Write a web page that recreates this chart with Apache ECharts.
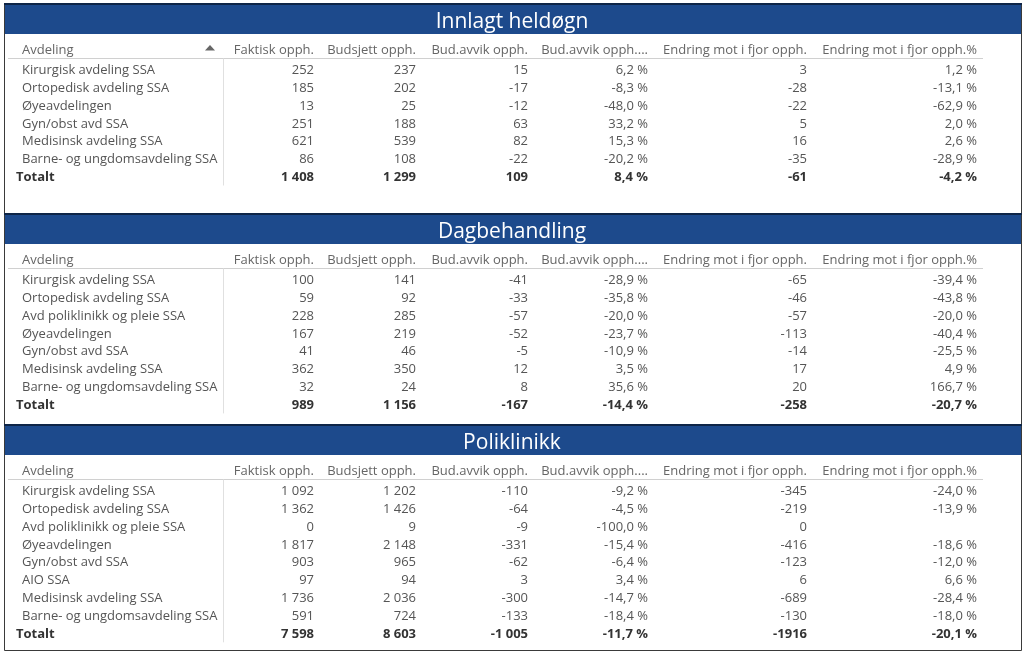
<!DOCTYPE html>
<html><head><meta charset="utf-8">
<script src="https://cdn.jsdelivr.net/npm/echarts@6/dist/echarts.min.js"></script>
<style>html,body{margin:0;padding:0;background:#fff}#c{width:1024px;height:652px}</style>
</head><body><div id="c"></div>
<script>
// ---------- DATA ----------
const sectionTitles = ["Innlagt heldøgn", "Dagbehandling", "Poliklinikk"];
const columnHeaders = ["Avdeling", "Faktisk opph.", "Budsjett opph.", "Bud.avvik opph.", "Bud.avvik opph....", "Endring mot i fjor opph.", "Endring mot i fjor opph.%"];
const totalLabel = "Totalt";

const innlagtAvdeling = ["Kirurgisk avdeling SSA", "Ortopedisk avdeling SSA", "Øyeavdelingen", "Gyn/obst avd SSA", "Medisinsk avdeling SSA", "Barne- og ungdomsavdeling SSA"];
const innlagtFaktisk = [252, 185, 13, 251, 621, 86];
const innlagtBudsjett = [237, 202, 25, 188, 539, 108];
const innlagtAvvik = [15, -17, -12, 63, 82, -22];
const innlagtAvvikPct = [6.2, -8.3, -48.0, 33.2, 15.3, -20.2];
const innlagtEndring = [3, -28, -22, 5, 16, -35];
const innlagtEndringPct = [1.2, -13.1, -62.9, 2.0, 2.6, -28.9];
const innlagtTotal = ["1 408", "1 299", "109", "8,4 %", "-61", "-4,2 %"];

const dagAvdeling = ["Kirurgisk avdeling SSA", "Ortopedisk avdeling SSA", "Avd poliklinikk og pleie SSA", "Øyeavdelingen", "Gyn/obst avd SSA", "Medisinsk avdeling SSA", "Barne- og ungdomsavdeling SSA"];
const dagFaktisk = [100, 59, 228, 167, 41, 362, 32];
const dagBudsjett = [141, 92, 285, 219, 46, 350, 24];
const dagAvvik = [-41, -33, -57, -52, -5, 12, 8];
const dagAvvikPct = [-28.9, -35.8, -20.0, -23.7, -10.9, 3.5, 35.6];
const dagEndring = [-65, -46, -57, -113, -14, 17, 20];
const dagEndringPct = [-39.4, -43.8, -20.0, -40.4, -25.5, 4.9, 166.7];
const dagTotal = ["989", "1 156", "-167", "-14,4 %", "-258", "-20,7 %"];

const poliAvdeling = ["Kirurgisk avdeling SSA", "Ortopedisk avdeling SSA", "Avd poliklinikk og pleie SSA", "Øyeavdelingen", "Gyn/obst avd SSA", "AIO SSA", "Medisinsk avdeling SSA", "Barne- og ungdomsavdeling SSA"];
const poliFaktisk = [1092, 1362, 0, 1817, 903, 97, 1736, 591];
const poliBudsjett = [1202, 1426, 9, 2148, 965, 94, 2036, 724];
const poliAvvik = [-110, -64, -9, -331, -62, 3, -300, -133];
const poliAvvikPct = [-9.2, -4.5, -100.0, -15.4, -6.4, 3.4, -14.7, -18.4];
const poliEndring = [-345, -219, 0, -416, -123, 6, -689, -130];
const poliEndringPct = [-24.0, -13.9, null, -18.6, -12.0, 6.6, -28.4, -18.0];
const poliTotal = ["7 598", "8 603", "-1 005", "-11,7 %", "-1916", "-20,1 %"];

// ---------- FORMAT ----------
function fmtInt(v) {
  if (v == null) return "";
  const s = Math.abs(v).toString().replace(/\B(?=(\d{3})+(?!\d))/g, " ");
  return (v < 0 ? "-" : "") + s;
}
function fmtPct(v) {
  if (v == null) return "";
  return v.toFixed(1).replace(".", ",") + " %";
}

const sections = [
  { title: sectionTitles[0], names: innlagtAvdeling, cols: [innlagtFaktisk, innlagtBudsjett, innlagtAvvik, innlagtAvvikPct, innlagtEndring, innlagtEndringPct], total: innlagtTotal, sortArrow: true },
  { title: sectionTitles[1], names: dagAvdeling, cols: [dagFaktisk, dagBudsjett, dagAvvik, dagAvvikPct, dagEndring, dagEndringPct], total: dagTotal },
  { title: sectionTitles[2], names: poliAvdeling, cols: [poliFaktisk, poliBudsjett, poliAvvik, poliAvvikPct, poliEndring, poliEndringPct], total: poliTotal }
];
const colFormats = [fmtInt, fmtInt, fmtInt, fmtPct, fmtInt, fmtPct];

// ---------- LAYOUT ----------
const panelTops = [3, 213, 424];
const panelBottom = 650;
const left = 4, right = 1021;
const colRight = [314, 416, 528, 648, 807, 977];
const nameX = 22, totalX = 16;
const rowStep = 17.9;
const blue = "#1d4a8c";
const FONT = "'Open Sans', 'Noto Sans', sans-serif";
const bodyFont = "13px " + FONT;
const boldFont = "bold 13px " + FONT;
const textShift = 1.6;

const els = [];
sections.forEach((sec, si) => {
  const top = panelTops[si];
  const bottom = si < 2 ? panelTops[si + 1] : panelBottom;
  els.push({ type: "rect", shape: { x: left + 0.5, y: top + 0.5, width: right - left, height: bottom - top }, style: { fill: "#fff", stroke: "#3a3a3a", lineWidth: 1 }, z: 1 });
  els.push({ type: "rect", shape: { x: left + 1, y: top + 1, width: right - left - 1, height: 30 }, style: { fill: blue }, z: 2 });
  els.push({ type: "line", shape: { x1: left, y1: top + 1, x2: right + 1, y2: top + 1 }, style: { stroke: "#0e2547", lineWidth: 2 }, z: 3 });
  els.push({ type: "text", x: 512, y: top + 19, style: { text: sec.title, fill: "#fff", font: "21px " + FONT, textAlign: "center", textVerticalAlign: "middle" }, z: 4 });

  const hy = top + 46 + textShift;
  els.push({ type: "text", x: nameX, y: hy, style: { text: columnHeaders[0], fill: "#666", font: bodyFont, textAlign: "left", textVerticalAlign: "middle" }, z: 4 });
  for (let c = 0; c < 6; c++) {
    els.push({ type: "text", x: colRight[c], y: hy, style: { text: columnHeaders[c + 1], fill: "#666", font: bodyFont, textAlign: "right", textVerticalAlign: "middle" }, z: 4 });
  }
  if (sec.sortArrow) {
    els.push({ type: "polygon", shape: { points: [[205, top + 47.5], [215, top + 47.5], [210, top + 42]] }, style: { fill: "#666" }, z: 4 });
  }
  const lineY = Math.round(top + 55) + 0.5;
  els.push({ type: "line", shape: { x1: 8, y1: lineY, x2: 983, y2: lineY }, style: { stroke: "#d0d0d0", lineWidth: 1 }, z: 4 });

  const y0 = top + 65.5 + textShift;
  sec.names.forEach((n, r) => {
    const y = y0 + r * rowStep;
    els.push({ type: "text", x: nameX, y: y, style: { text: n, fill: "#555", font: bodyFont, textAlign: "left", textVerticalAlign: "middle" }, z: 4 });
    for (let c = 0; c < 6; c++) {
      els.push({ type: "text", x: colRight[c], y: y, style: { text: colFormats[c](sec.cols[c][r]), fill: "#555", font: bodyFont, textAlign: "right", textVerticalAlign: "middle" }, z: 4 });
    }
  });
  const ty = y0 + sec.names.length * rowStep;
  els.push({ type: "text", x: totalX, y: ty, style: { text: totalLabel, fill: "#333", font: boldFont, textAlign: "left", textVerticalAlign: "middle" }, z: 4 });
  for (let c = 0; c < 6; c++) {
    els.push({ type: "text", x: colRight[c], y: ty, style: { text: sec.total[c], fill: "#333", font: boldFont, textAlign: "right", textVerticalAlign: "middle" }, z: 4 });
  }
  els.push({ type: "line", shape: { x1: 223.5, y1: lineY, x2: 223.5, y2: ty + 8 }, style: { stroke: "#e0e0e0", lineWidth: 1 }, z: 4 });
});

const chart = echarts.init(document.getElementById("c"), null, { renderer: "canvas" });
chart.setOption({ backgroundColor: "#fff", animation: false, graphic: { elements: els } });
</script>
</body></html>
